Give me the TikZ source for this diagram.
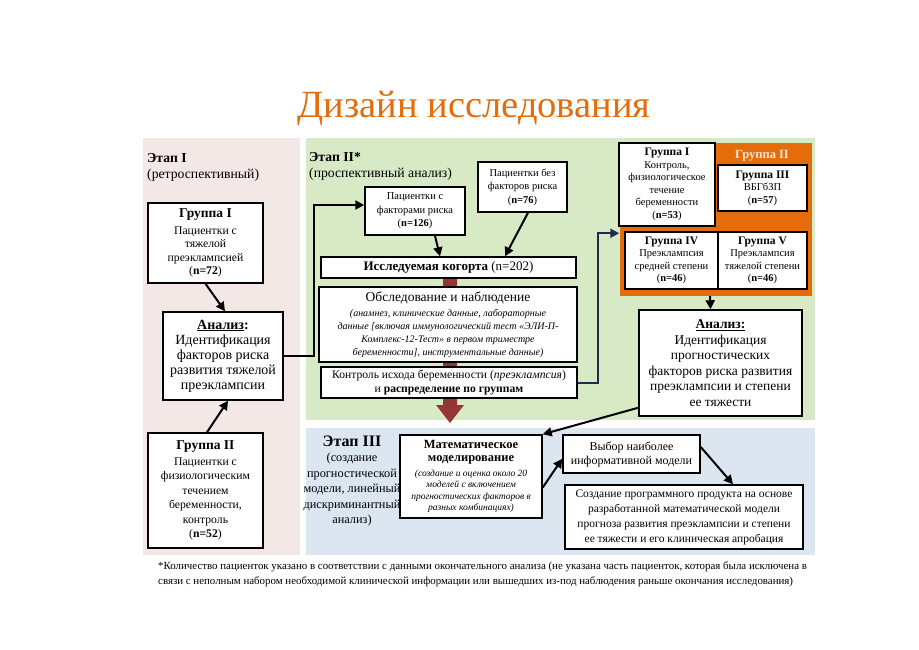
\documentclass[tikz,border=0pt]{standalone}
\usepackage{fontspec}
\setmainfont{Liberation Serif}
\usepackage{xcolor}
\usetikzlibrary{arrows.meta, positioning, calc}

\definecolor{titleorange}{RGB}{228,108,10}
\definecolor{stagepink}{RGB}{244,232,231}
\definecolor{stagegreen}{RGB}{216,233,197}
\definecolor{stageblue}{RGB}{220,230,241}
\definecolor{groupfill}{RGB}{228,108,10}
\definecolor{grouplabel}{RGB}{253,234,218}
\definecolor{flowred}{RGB}{148,54,52}
\definecolor{navyline}{RGB}{31,46,72}

\newcommand\smallit[2]{{\fontsize{#1}{#1}\selectfont\itshape #2}}
\newcommand\grouptitle[2]{{\fontsize{#1}{#1}\selectfont\bfseries #2}}

\begin{document}
\begin{tikzpicture}[x=1pt, y=-1pt,
  box/.style={draw, line width=1.5pt, fill=white, align=center, inner sep=2pt},
  arr/.style={line width=2pt, -{Triangle[length=9pt,width=9pt]}},
  stagetext/.style={anchor=west, inner sep=0pt, font=\fontsize{13.7}{16}\selectfont}]
\useasboundingbox (0,0) rectangle (919,650);
\fill[white] (0,0) rectangle (919,650);

% Title
\node[text=titleorange, font=\fontsize{38.5}{42}\selectfont] (title) at (474,108) {Дизайн исследования};

% Stage backgrounds
\fill[stagepink] (143,138) rectangle (300,555);
\fill[stagegreen] (306,138) rectangle (815,420);
\fill[stageblue] (306,428) rectangle (815,555);

% Main flow arrow behind the boxes
\fill[flowred] (443,270) -- (457,270) -- (457,405) -- (464,405) -- (450,423)
  -- (436,405) -- (443,405) -- cycle;

% Stage I: retrospective
\node[stagetext] (stI) at (147,158) {\textbf{Этап I}};
\node[stagetext] (stIsub) at (147,175) {(ретроспективный)};
\node[box, minimum width=115pt, minimum height=80pt,
  font=\fontsize{11.7}{13.5}\selectfont] (gI) at (205.5,243)
  {\grouptitle{13.5}{Группа I}\\[3pt]Пациентки с\\тяжелой\\преэклампсией\\(\textbf{n=72})};
\node[box, minimum width=120pt, minimum height=88pt,
  font=\fontsize{14}{15}\selectfont] (anI) at (223,356)
  {\underline{\textbf{Анализ}}\textbf{:}\\Идентификация\\факторов риска\\развития тяжелой\\преэклампсии};
\node[box, minimum width=115pt, minimum height=115pt,
  font=\fontsize{11.7}{14.5}\selectfont] (gII) at (205.5,490.5)
  {\grouptitle{13.5}{Группа II}\\[1pt]Пациентки с\\физиологическим\\течением\\беременности,\\контроль\\(\textbf{n=52})};

% Stage II: prospective
\node[stagetext] (stII) at (309,157) {\textbf{Этап II*}};
\node[stagetext] (stIIsub) at (309,174) {(проспективный анализ)};
\node[box, minimum width=100pt, minimum height=48pt,
  font=\fontsize{10.5}{13.5}\selectfont] (risk) at (415,211)
  {Пациентки с\\факторами риска\\(\textbf{n=126})};
\node[box, minimum width=89pt, minimum height=50pt,
  font=\fontsize{10.5}{13.5}\selectfont] (norisk) at (522.5,187)
  {Пациентки без\\факторов риска\\(\textbf{n=76})};
\node[box, minimum width=255pt, minimum height=21pt,
  inner ysep=1pt, font=\fontsize{13}{14}\selectfont] (cohort) at (448.5,267.5)
  {\textbf{Исследуемая когорта} (n=202)};
\node[box, minimum width=258pt, minimum height=75pt,
  font=\fontsize{13.5}{13}\selectfont] (exam) at (448,324.5)
  {Обследование и наблюдение\\[2pt]
   \smallit{10}{(анамнез, клинические данные, лабораторные}\\
   \smallit{10}{данные [включая иммунологический тест «ЭЛИ-П-}\\
   \smallit{10}{Комплекс-12-Тест» в первом триместре}\\
   \smallit{10}{беременности], инструментальные данные)}};
\node[box, minimum width=256pt, minimum height=31pt,
  inner ysep=1pt, font=\fontsize{11.6}{13.5}\selectfont] (ctrl) at (449,382.5)
  {Контроль исхода беременности (\textit{преэклампсия})\\и \textbf{распределение по группам}};

% Outcome groups
\fill[groupfill] (620,143) rectangle (812,296);
\node[inner sep=0pt, minimum width=192pt, minimum height=153pt] (grp) at (716,219.5) {};
\node[text=grouplabel, font=\fontsize{12.5}{14}\selectfont\bfseries] (grpII) at (762,156) {Группа II};
\node[box, minimum width=96pt, minimum height=83pt,
  font=\fontsize{10.5}{12.5}\selectfont] (cI) at (667,184.5)
  {\grouptitle{11.5}{Группа I}\\Контроль,\\физиологическое\\течение\\беременности\\(\textbf{n=53})};
\node[box, minimum width=89pt, minimum height=46pt,
  font=\fontsize{10.5}{12.5}\selectfont] (cIII) at (762.5,188)
  {\grouptitle{11.5}{Группа III}\\ВБГбЗП\\(\textbf{n=57})};
\node[box, minimum width=93pt, minimum height=57pt,
  font=\fontsize{10.5}{12.5}\selectfont] (cIV) at (671.5,260.5)
  {\grouptitle{11.5}{Группа IV}\\Преэклампсия\\средней степени\\(\textbf{n=46})};
\node[box, minimum width=89pt, minimum height=57pt,
  font=\fontsize{10.5}{12.5}\selectfont] (cV) at (762.5,260.5)
  {\grouptitle{11.5}{Группа V}\\Преэклампсия\\тяжелой степени\\(\textbf{n=46})};
\node[box, minimum width=163pt, minimum height=106pt,
  font=\fontsize{13.5}{15.5}\selectfont] (anII) at (720.5,363)
  {\underline{\textbf{Анализ:}}\\Идентификация\\прогностических\\факторов риска развития\\преэклампсии и степени\\ее тяжести};

% Stage III: modelling
\node[align=center, inner sep=0pt, font=\fontsize{12.3}{15.5}\selectfont] (stIII) at (352,481)
  {{\fontsize{16}{16}\selectfont\textbf{Этап III}}\\(создание\\прогностической\\модели, линейный\\дискриминантный\\анализ)};
\node[box, minimum width=142pt, minimum height=83pt,
  font=\fontsize{12.5}{11.5}\selectfont] (model) at (471,476.5)
  {\textbf{Математическое}\\[1.5pt]\textbf{моделирование}\\[3.5pt]
   \smallit{9.5}{(создание и оценка около 20}\\
   \smallit{9.5}{моделей с включением}\\
   \smallit{9.5}{прогностических факторов в}\\
   \smallit{9.5}{разных комбинациях)}};
\node[box, minimum width=137pt, minimum height=38pt,
  font=\fontsize{12}{14}\selectfont] (choice) at (631.5,454)
  {Выбор наиболее\\информативной модели};
\node[box, minimum width=238pt, minimum height=64pt,
  font=\fontsize{11.5}{15}\selectfont] (soft) at (684,517)
  {Создание программного продукта на основе\\разработанной математической модели\\
   прогноза развития преэклампсии и степени\\ее тяжести и его клиническая апробация};

% Connectors
\draw[arr] (gI.south) -- ($(anI.north)+(2,0)$);
\draw[arr] ($(gII.north)+(1.5,0)$) -- ($(anI.south)+(5,0)$);
\draw[arr] (anI.east) -- ++(30,0) |- ($(risk.west)+(0,-6)$);
\draw[arr] ($(risk.south)+(20,0)$) -- ($(cohort.north)+(-8.5,0)$);
\draw[arr] ($(norisk.south)+(5.5,0)$) -- ($(cohort.north)+(56.5,0)$);
\draw[arr, navyline] (ctrl.east) -- ++(20,0) |- ($(cIV.north west)+(-5,2)$);
\draw[arr] ($(grp.south)+(-6,0)$) -- ($(anII.north)+(-10,0)$);
\draw[arr] ($(anII.south west)+(0,-9)$) -- (model.north east);
\draw[arr] ($(model.east)+(0,11)$) -- ($(choice.south west)+(0,-15)$);
\draw[arr] ($(choice.east)+(0,-7)$) -- ($(soft.north)+(49,0)$);

% Footnote
\node[anchor=north west, align=left, inner sep=0pt, font=\fontsize{10.9}{15}\selectfont] (note) at (158,561)
  {*Количество пациенток указано в соответствии с данными окончательного анализа (не указана часть пациенток, которая была исключена в\\
   связи с неполным набором необходимой клинической информации или вышедших из-под наблюдения раньше окончания исследования)};
\end{tikzpicture}
\end{document}
